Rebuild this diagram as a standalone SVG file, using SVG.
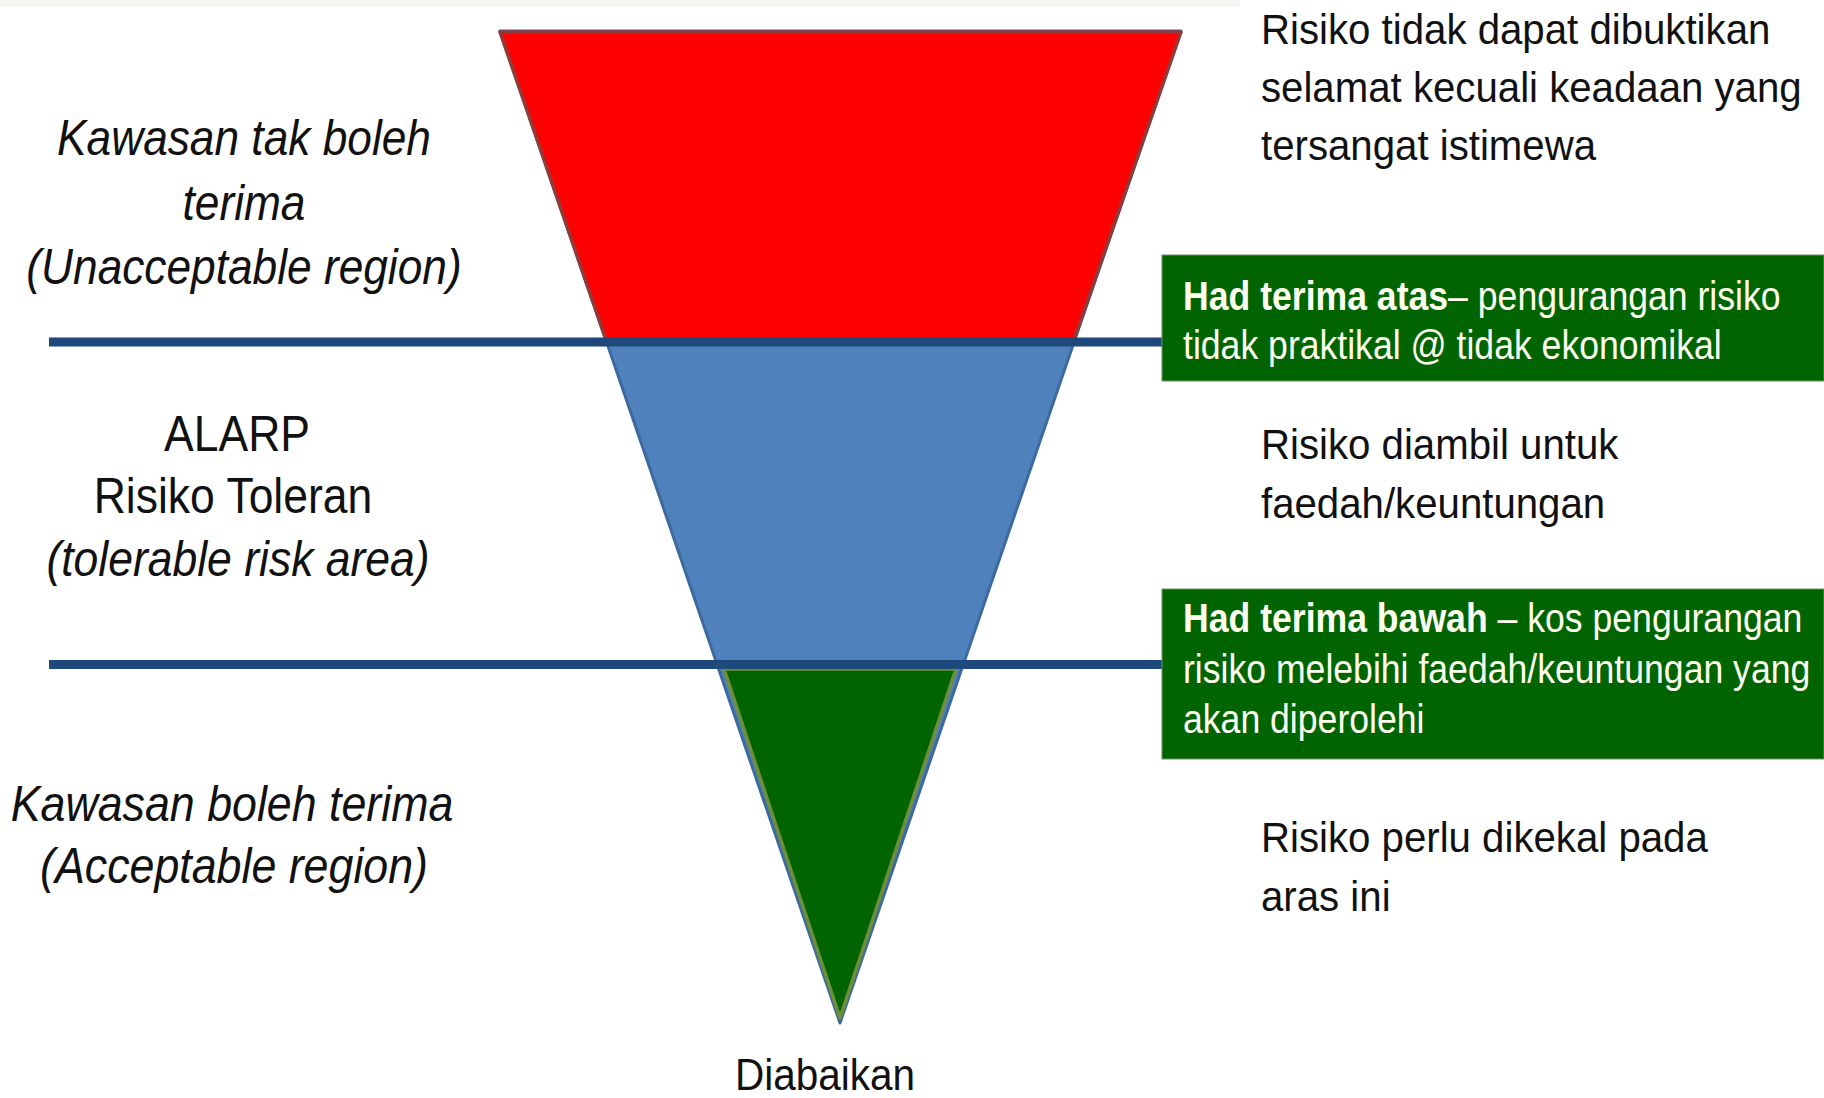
<svg xmlns="http://www.w3.org/2000/svg" width="1824" height="1098" viewBox="0 0 1824 1098">
<style>
.t{font-family:"Liberation Sans",Arial,sans-serif;fill:#111}
.l{font-size:50px;text-anchor:middle}
.i{font-style:italic}
.r{font-size:43px}
.b{font-size:40px;fill:#fffff0}
.bb{font-weight:bold}
.sep{stroke:#1F497D;stroke-width:9;fill:none}
</style>
<rect width="1824" height="1098" fill="#ffffff"/>
<rect width="1240" height="7" fill="#f6f6f4"/>
<g id="funnel">
  <polygon id="tolerable" points="500,31 1181,31 840,1023" fill="#4F81BD" stroke="#3D6A9E" stroke-width="3" stroke-linejoin="round"/>
  <polygon id="unacceptable" points="500,32 1181,32 1074,340 606,340" fill="#FF0000" stroke="#8E3B3B" stroke-width="3.5" stroke-linejoin="round"/>
  <polygon id="acceptable" points="724,669 956,669 840,1018" fill="#006400" stroke="#6E8F3A" stroke-width="3.5" stroke-linejoin="round"/>
</g>
<g id="connectors">
  <line class="sep" x1="49" y1="342" x2="1163" y2="342"/>
  <line class="sep" x1="49" y1="664.5" x2="1163" y2="664.5"/>
</g>
<g id="label-unacceptable">
  <text class="t l i" transform="translate(244,155) scale(0.885,1)">Kawasan tak boleh</text>
  <text class="t l i" transform="translate(244,220) scale(0.885,1)">terima</text>
  <text class="t l i" transform="translate(244,284) scale(0.885,1)">(Unacceptable region)</text>
</g>
<g id="label-alarp">
  <text class="t l" transform="translate(237,451) scale(0.89,1)">ALARP</text>
  <text class="t l" transform="translate(233,513) scale(0.89,1)">Risiko Toleran</text>
  <text class="t l i" transform="translate(238,576) scale(0.89,1)">(tolerable risk area)</text>
</g>
<g id="label-acceptable">
  <text class="t l i" transform="translate(232,821) scale(0.895,1)">Kawasan boleh terima</text>
  <text class="t l i" transform="translate(234,883) scale(0.895,1)">(Acceptable region)</text>
</g>
<g id="label-diabaikan">
  <text class="t" style="font-size:45px;text-anchor:middle" transform="translate(825,1090) scale(0.9,1)">Diabaikan</text>
</g>
<g id="desc-top">
  <text class="t r" transform="translate(1261,44) scale(0.935,1)">Risiko tidak dapat dibuktikan</text>
  <text class="t r" transform="translate(1261,102) scale(0.935,1)">selamat kecuali keadaan yang</text>
  <text class="t r" transform="translate(1261,160) scale(0.935,1)">tersangat istimewa</text>
</g>
<g id="box-upper">
  <rect x="1162" y="255" width="662" height="126" fill="#006400" stroke="#6f8f6f" stroke-width="1"/>
  <text class="t b" transform="translate(1183,310) scale(0.89,1)"><tspan class="bb">Had terima atas</tspan>– pengurangan risiko</text>
  <text class="t b" transform="translate(1183,359) scale(0.89,1)">tidak praktikal @ tidak ekonomikal</text>
</g>
<g id="desc-middle">
  <text class="t r" transform="translate(1261,459) scale(0.935,1)">Risiko diambil untuk</text>
  <text class="t r" transform="translate(1261,518) scale(0.935,1)">faedah/keuntungan</text>
</g>
<g id="box-lower">
  <rect x="1162" y="589" width="662" height="170" fill="#006400" stroke="#6f8f6f" stroke-width="1"/>
  <text class="t b" transform="translate(1183,632) scale(0.89,1)"><tspan class="bb">Had terima bawah</tspan> – kos pengurangan</text>
  <text class="t b" transform="translate(1183,683) scale(0.89,1)">risiko melebihi faedah/keuntungan yang</text>
  <text class="t b" transform="translate(1183,733) scale(0.89,1)">akan diperolehi</text>
</g>
<g id="desc-bottom">
  <text class="t r" transform="translate(1261,852) scale(0.935,1)">Risiko perlu dikekal pada</text>
  <text class="t r" transform="translate(1261,911) scale(0.935,1)">aras ini</text>
</g>
</svg>
